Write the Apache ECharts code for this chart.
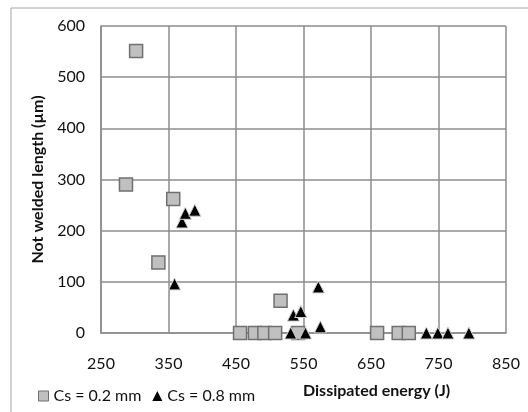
<!DOCTYPE html>
<html>
<head>
<meta charset="utf-8">
<script src="https://cdn.jsdelivr.net/npm/echarts@6/dist/echarts.min.js"></script>
<style>html,body{margin:0;padding:0;background:#fff}#c{width:528px;height:412px}</style>
</head>
<body>
<div id="c"></div>
<script>
var seriesNames = ['Cs = 0.2 mm', 'Cs = 0.8 mm'];
var xTicks = [250, 350, 450, 550, 650, 750, 850];
var yTicks = [0, 100, 200, 300, 400, 500, 600];
var cs02 = [[287,290],[302,551],[335,138],[357,262],[456,0],[478,0],[492,0],[508,0],[516,63],[542,0],[659,0],[691,0],[706,0]];
var cs08 = [[359,96],[370,217],[375,234],[389,240],[531,0],[535,35],[546,42],[553,0],[572,90],[575,12],[732,0],[749,0],[764,0],[795,0]];
var xTitle = 'Dissipated energy (J)';
var yTitle = 'Not welded length (µm)';

var font = 'Lato, "Open Sans", sans-serif';
var chart = echarts.init(document.getElementById('c'));
chart.setOption({
  animation: false,
  textStyle: {fontFamily: font},
  grid: {left: 101, top: 26, right: 22, bottom: 79},
  graphic: [
    {type: 'rect', shape: {x: 11, y: 8, width: 700, height: 600}, style: {fill: 'none', stroke: '#a6a6a6', lineWidth: 1}, silent: true},
    {type: 'text', left: 303, top: 383, style: {text: xTitle, font: 'bold 16px ' + font, fill: '#111'}}
  ],
  legend: {
    left: 33, top: 383, itemWidth: 10, itemHeight: 10, itemGap: 11,
    textStyle: {fontSize: 16, color: '#111', fontFamily: font},
    data: [
      {name: seriesNames[0], icon: 'rect', itemStyle: {color: '#c0c0c0', borderColor: '#707070', borderWidth: 1}},
      {name: seriesNames[1], icon: 'triangle', itemStyle: {color: '#000', borderWidth: 0}}
    ]
  },
  xAxis: {
    type: 'value', min: xTicks[0], max: xTicks[xTicks.length - 1], interval: 100,
    axisLine: {show: true, lineStyle: {color: '#8c8c8c', width: 1.5}},
    axisTick: {show: false},
    axisLabel: {fontSize: 16, color: '#111', margin: 23, fontFamily: font},
    splitLine: {show: true, lineStyle: {color: '#8c8c8c', width: 1.5}}
  },
  yAxis: {
    type: 'value', min: yTicks[0], max: yTicks[yTicks.length - 1], interval: 100,
    name: yTitle, nameLocation: 'middle', nameGap: 55,
    nameTextStyle: {fontSize: 16, fontWeight: 'bold', color: '#111', fontFamily: font},
    axisLine: {show: true, lineStyle: {color: '#8c8c8c', width: 1.5}},
    axisTick: {show: false},
    axisLabel: {fontSize: 16, color: '#111', margin: 16, fontFamily: font},
    splitLine: {show: true, lineStyle: {color: '#8c8c8c', width: 1.5}}
  },
  series: [
    {name: seriesNames[0], type: 'scatter', symbol: 'rect', symbolSize: 13, data: cs02,
     itemStyle: {color: '#c0c0c0', borderColor: '#707070', borderWidth: 1.5, opacity: 1}},
    {name: seriesNames[1], type: 'scatter', symbol: 'triangle', symbolSize: 12, data: cs08,
     itemStyle: {color: '#000', borderColor: '#d0d0d0', borderWidth: 1, opacity: 1}}
  ]
});
</script>
</body>
</html>
